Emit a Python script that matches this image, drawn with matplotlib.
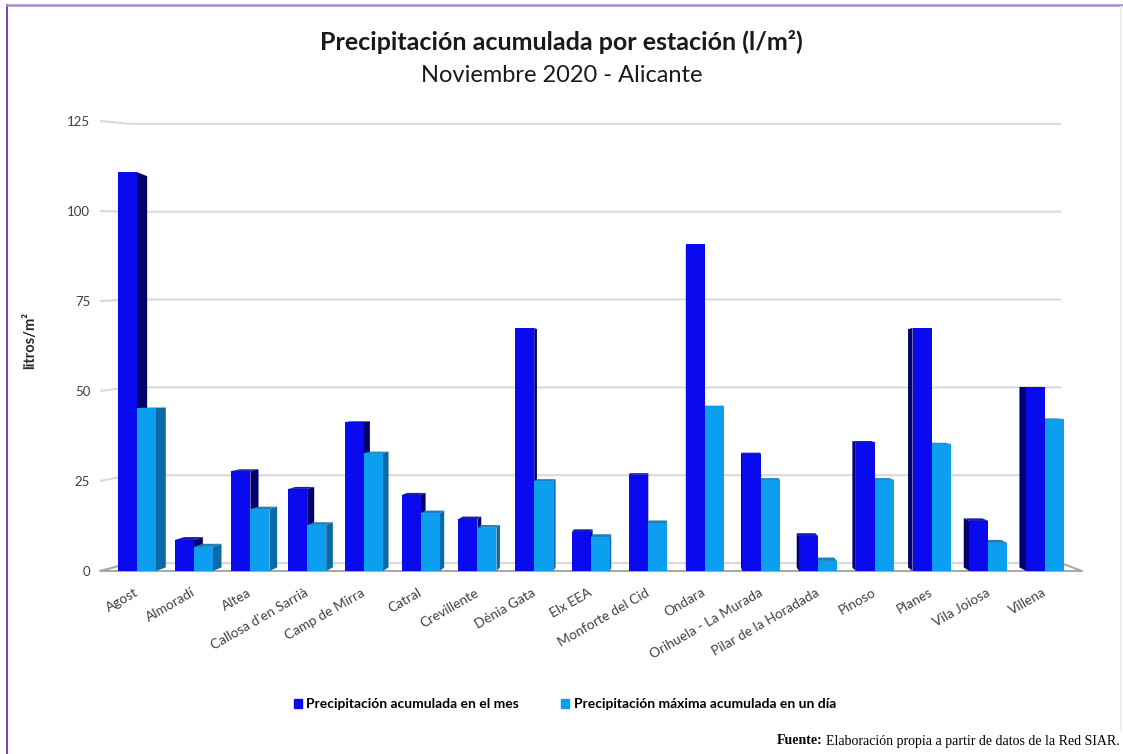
import matplotlib.pyplot as plt
from matplotlib.patches import Patch
from matplotlib.lines import Line2D

# ==============================
# datos
# ==============================

estaciones = ["Agost", "Almoradí", "Altea", "Callosa d'en Sarrià", "Camp de Mirra",
              "Catral", "Crevillente", "Dénia Gata", "Elx EEA", "Monforte del Cid",
              "Ondara", "Orihuela - La Murada", "Pilar de la Horadada", "Pinoso",
              "Planes", "Vila Joiosa", "Villena"]

prec_mes = [110.8, 8.6, 27.8, 22.8, 41.4, 21.1, 14.4, 67.5, 10.8, 26.7,
            90.8, 32.5, 9.7, 35.8, 67.5, 13.9, 51.1]

prec_max_dia = [45.3, 6.7, 17.2, 12.8, 32.8, 16.1, 12.0, 25.0, 9.4, 13.3,
                45.8, 25.3, 2.8, 25.3, 35.3, 7.8, 42.2]

yticks = [0, 25, 50, 75, 100, 125]

titulo = "Precipitación acumulada por estación (l/m²)"
subtitulo = "Noviembre 2020 - Alicante"
series = ["Precipitación acumulada en el mes", "Precipitación máxima acumulada en un día"]

# ==============================
# estilo
# ==============================

plt.rcParams["font.family"] = ["Lato", "DejaVu Sans"]

# colores: frente, lateral, superior
col_mes = ("#0a0aef", "#00006e", "#1a1ab8")
col_max = ("#0c9ff0", "#0a6aa8", "#1a80be")

XMIN, XMAX = -0.65, 16.65
XC = 9.5                     # punto de fuga horizontal
YV_BAR, D_BAR = 52.0, 0.019  # perspectiva de las barras
YV_WALL, DX_WALL, DY_WALL = 92.0, 0.052, 0.024  # perspectiva de paredes
ANCHO = 0.335


def atras(x, y, dx, dy, yv):
    return XC + (x - XC) * (1 - dx), yv + (y - yv) * (1 - dy)


fig = plt.figure(figsize=(11.23, 7.54), dpi=100)
ax = fig.add_axes([100 / 1123, 183 / 754, 982 / 1123, 450 / 754])
ax.set_xlim(XMIN, XMAX)
ax.set_ylim(0, 125)
for s in ax.spines.values():
    s.set_visible(False)

# ==============================
# paredes / grid
# ==============================

gcol = "#d9d9d9"
for v in yticks:
    xbl, yb = atras(XMIN, v, DX_WALL, DY_WALL, YV_WALL)
    xbr, _ = atras(XMAX, v, DX_WALL, DY_WALL, YV_WALL)
    ax.plot([XMIN, xbl, xbr], [v, yb, yb], color=gcol, lw=1.5, zorder=1,
            clip_on=False, solid_capstyle="butt")

# suelo
xbl, yb0 = atras(XMIN, 0, DX_WALL, DY_WALL, YV_WALL)
xbr, _ = atras(XMAX, 0, DX_WALL, DY_WALL, YV_WALL)
ax.plot([xbl, XMIN, XMAX, xbr], [yb0, 0, 0, yb0], color="#a6a6a6", lw=1.4,
        zorder=2, clip_on=False)

# ==============================
# barras 3D
# ==============================

def barra(xc_barra, h, cols):
    x0, x1 = xc_barra - ANCHO / 2, xc_barra + ANCHO / 2
    z = 10 + 0.1 * (20 - abs(xc_barra - XC))
    ax.bar(xc_barra, h, width=ANCHO, color=cols[0], linewidth=0, zorder=z + 0.01)
    if x1 < XC:
        xe = x1
    elif x0 > XC:
        xe = x0
    else:
        xe = None
    if xe is not None:
        bx0, by0 = atras(xe, 0, D_BAR, D_BAR, YV_BAR)
        bxh, byh = atras(xe, h, D_BAR, D_BAR, YV_BAR)
        ax.fill([xe, xe, bxh, bx0], [0, h, byh, by0], color=cols[1],
                linewidth=0, zorder=z, clip_on=False)
    if h < YV_BAR:
        ax0, ay = atras(x0, h, D_BAR, D_BAR, YV_BAR)
        ax1, _ = atras(x1, h, D_BAR, D_BAR, YV_BAR)
        ax.fill([x0, x1, ax1, ax0], [h, h, ay, ay], color=cols[2],
                linewidth=0, zorder=z, clip_on=False)


for i in range(len(estaciones)):
    barra(i - ANCHO / 2, prec_mes[i], col_mes)
    barra(i + ANCHO / 2, prec_max_dia[i], col_max)

# ==============================
# ejes
# ==============================

ax.set_yticks(yticks)
ax.set_yticklabels([str(v) for v in yticks], fontsize=9.5, color="#404040")
ax.set_xticks([i - 0.05 for i in range(len(estaciones))])
ax.set_xticklabels(estaciones, rotation=30, ha="right", rotation_mode="anchor",
                   fontsize=9.8, color="#404040")
ax.tick_params(axis="both", length=0)
ax.tick_params(axis="y", pad=7)
ax.tick_params(axis="x", pad=11)

ax.set_ylabel("litros/m²", fontsize=10.5, fontweight="bold", color="#262626")
ax.yaxis.set_label_coords(-0.064, 0.513)

# ==============================
# títulos
# ==============================

fig.text(0.5, 1 - 42 / 754, titulo, ha="center", va="center", fontsize=18,
         fontweight="bold", color="#1a1a1a")
fig.text(0.5, 1 - 76 / 754, subtitulo, ha="center", va="center", fontsize=17,
         color="#1a1a1a")

# ==============================
# leyenda
# ==============================

handles = [Patch(color=col_mes[0]), Patch(color=col_max[0])]
fig.legend(handles, series, loc="center", bbox_to_anchor=(0.503, 1 - 704 / 754),
           ncol=2, frameon=False, handlelength=0.6, handleheight=0.6,
           handletextpad=0.3, columnspacing=3.0,
           prop={"family": ["Lato"], "weight": "bold", "size": 10})

# ==============================
# marco y fuente
# ==============================

fig.add_artist(Line2D([7 / 1123, 7 / 1123], [0, 1 - 5 / 754], color="#7030a0", lw=1.3))
fig.add_artist(Line2D([7 / 1123, 1], [1 - 5 / 754, 1 - 5 / 754], color="#a58cc8", lw=1.8))
fig.add_artist(Line2D([1121 / 1123, 1121 / 1123], [1 - 7 / 754, 1 - 730 / 754],
                      color="#ececec", lw=1.5))

t_fuente = fig.text(1120 / 1123, 1 - 741 / 754,
                    "Elaboración propia a partir de datos de la Red SIAR.",
                    ha="right", va="center", fontsize=10,
                    family="Liberation Serif", color="#000000")
fig.canvas.draw()
bb = t_fuente.get_window_extent(fig.canvas.get_renderer())
fig.text((bb.x0 - 4) / fig.bbox.width, 1 - 741 / 754, "Fuente:", ha="right",
         va="center", fontsize=10, family="Liberation Serif", fontweight="bold")

fig.savefig("out.png", dpi=100)
plt.close()
